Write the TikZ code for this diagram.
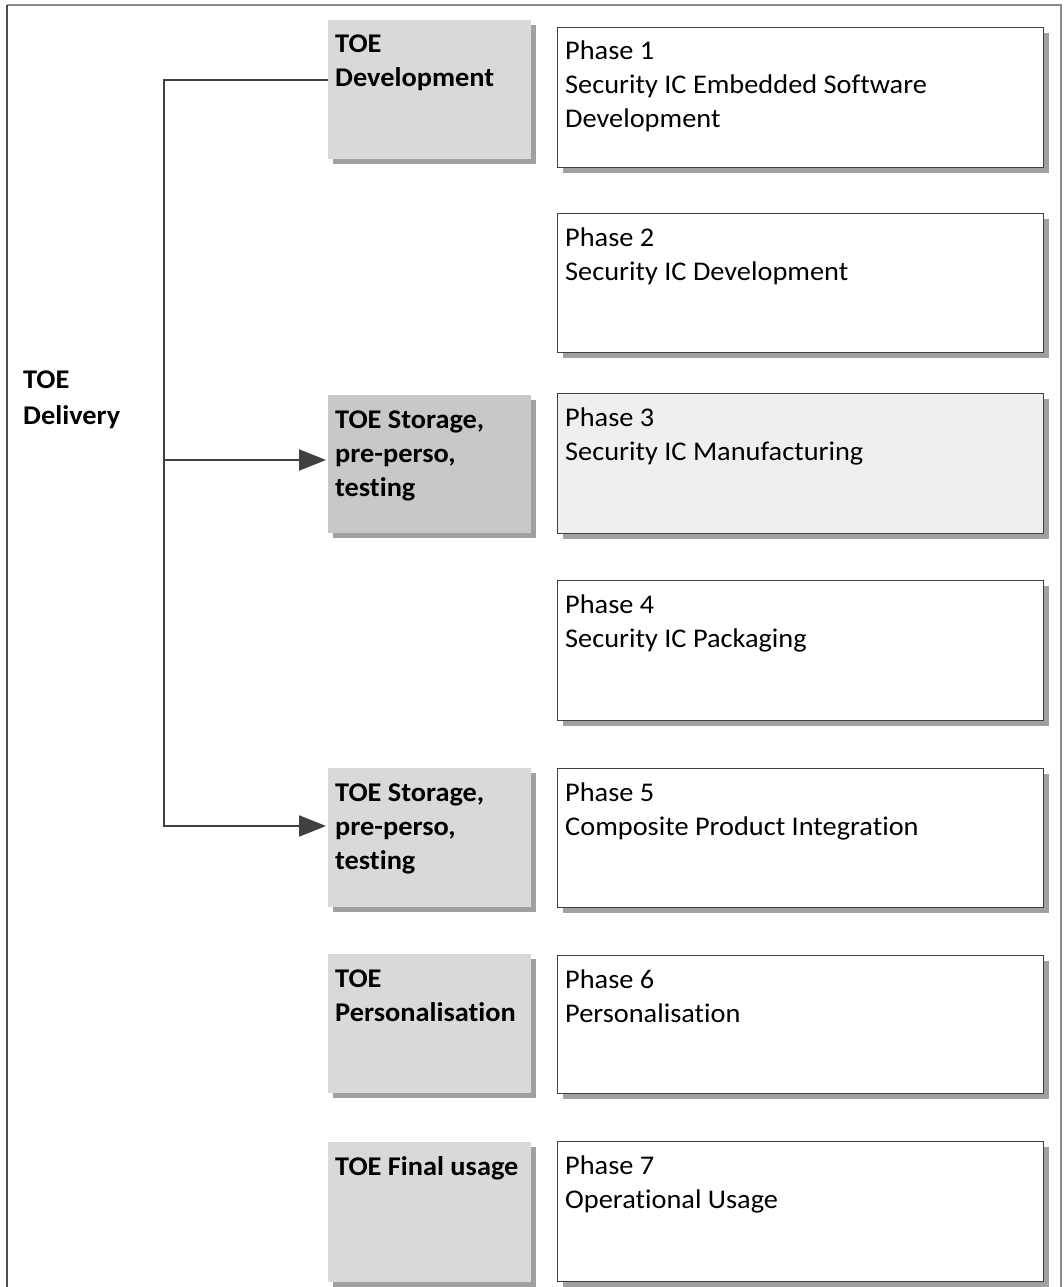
\documentclass[tikz,border=0pt]{standalone}
\usepackage{fontspec}
\setmainfont[FakeStretch=1.05,Ligatures=NoCommon]{Carlito}
\usetikzlibrary{arrows.meta,shadows,calc}
\definecolor{boxgray}{HTML}{D9D9D9}
\definecolor{boxdark}{HTML}{C8C8C8}
\definecolor{phaselight}{HTML}{EFEFEF}
\definecolor{linec}{HTML}{404040}
\definecolor{shadowc}{HTML}{A0A0A0}
\begin{document}
\begin{tikzpicture}[x=1pt,y=-1pt,
  shad/.style={drop shadow={shadow xshift=5pt,shadow yshift=-5pt,fill=shadowc,opacity=1}},
  phasebox/.style={draw=linec,line width=1.4pt,fill=white,minimum width=486pt,minimum height=139pt,inner sep=0pt,anchor=north west,shad},
  stagebox/.style={fill=boxgray,minimum width=203pt,minimum height=139pt,inner sep=0pt,anchor=north west,shad},
  txt/.style={anchor=base west,inner sep=0pt,font=\fontsize{27pt}{34pt}\selectfont},
  btxt/.style={anchor=base west,inner sep=0pt,font=\fontsize{27pt}{34pt}\selectfont\bfseries},
  conn/.style={draw=linec,line width=2pt},
  tip/.style={-{Triangle[length=27pt,width=21pt]},shorten >=2pt}
]
\useasboundingbox (0,0) rectangle (1064,1287);
\fill[white] (0,0) rectangle (1064,1287);
% frame
\draw[draw=black!45,line width=1.3pt] (1061,1287) -- (1061,5) -- (7,5);
\draw[draw=black!70,line width=1.5pt] (7,5) -- (7,1287);

% stage boxes
\node[stagebox] (g1) at (328,20) {};
\node[stagebox,fill=boxdark,minimum height=138pt] (g2) at (328,395) {};
\node[stagebox] (g3) at (328,768) {};
\node[stagebox] (g4) at (328,954) {};
\node[stagebox,minimum height=140pt] (g5) at (328,1142) {};

% phase boxes
\node[phasebox,minimum height=140pt] (w1) at (557,27) {};
\node[phasebox] (w2) at (557,213) {};
\node[phasebox,fill=phaselight,minimum height=140pt] (w3) at (557,393) {};
\node[phasebox,minimum height=140pt] (w4) at (557,580) {};
\node[phasebox] (w5) at (557,768) {};
\node[phasebox,minimum height=138pt] (w6) at (557,955) {};
\node[phasebox,minimum height=140pt] (w7) at (557,1141) {};

% stage texts
\node[btxt] (g1t) at ($(g1.north west)+(7,33)$) {\parbox[t]{200pt}{TOE\\Development}};
\node[btxt] (g2t) at ($(g2.north west)+(7,33)$) {\parbox[t]{200pt}{TOE Storage,\\pre-perso,\\testing}};
\node[btxt] (g3t) at ($(g3.north west)+(7,33)$) {\parbox[t]{200pt}{TOE Storage,\\pre-perso,\\testing}};
\node[btxt] (g4t) at ($(g4.north west)+(7,33)$) {\parbox[t]{200pt}{TOE\\Personalisation}};
\node[btxt] (g5t) at ($(g5.north west)+(7,33)$) {\parbox[t]{200pt}{TOE Final usage}};

% phase texts
\node[txt] (w1t) at ($(w1.north west)+(8,33)$) {\parbox[t]{470pt}{Phase 1\\Security IC Embedded Software\\Development}};
\node[txt] (w2t) at ($(w2.north west)+(8,33)$) {\parbox[t]{470pt}{Phase 2\\Security IC Development}};
\node[txt] (w3t) at ($(w3.north west)+(8,33)$) {\parbox[t]{470pt}{Phase 3\\Security IC Manufacturing}};
\node[txt] (w4t) at ($(w4.north west)+(8,33)$) {\parbox[t]{470pt}{Phase 4\\Security IC Packaging}};
\node[txt] (w5t) at ($(w5.north west)+(8,33)$) {\parbox[t]{470pt}{Phase 5\\Composite Product Integration}};
\node[txt] (w6t) at ($(w6.north west)+(8,33)$) {\parbox[t]{470pt}{Phase 6\\Personalisation}};
\node[txt] (w7t) at ($(w7.north west)+(8,33)$) {\parbox[t]{470pt}{Phase 7\\Operational Usage}};

% delivery label
\node[btxt,font=\fontsize{27pt}{36pt}\selectfont\bfseries] (deliv) at (23,388) {\parbox[t]{130pt}{TOE\\Delivery}};

% connectors
\coordinate (jt) at (164,80);
\coordinate (jm) at (164,460);
\coordinate (jb) at (164,826);
\draw[conn,tip] (g1.west |- jt) -- (jt) -- (jb) -- (g3.west |- jb);
\draw[conn,tip] (jm) -- (g2.west |- jm);
\end{tikzpicture}
\end{document}
